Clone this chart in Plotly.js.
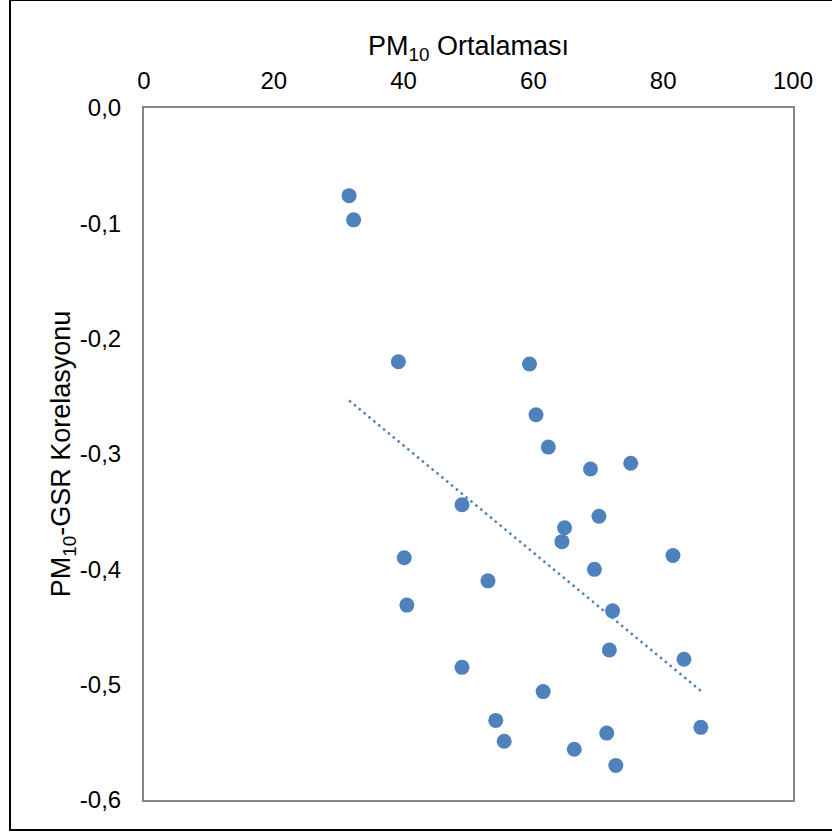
<!DOCTYPE html>
<html>
<head>
<meta charset="utf-8">
<script src="https://cdn.plot.ly/plotly-3.0.1.min.js"></script>
<style>
  html, body { margin: 0; padding: 0; background: #fff; overflow: hidden; }
  #frame { position: absolute; left: 9px; top: -1px; width: 830px; height: 832px;
           border: 2px solid #000; box-sizing: border-box; pointer-events: none; z-index: 2; }
  #chart { position: absolute; left: 0; top: 0; width: 832px; height: 836px; }
</style>
</head>
<body>
<div id="chart"></div>
<div id="frame"></div>
<script>
// PM10 mean per station vs. PM10-GSR correlation
const pm10Mean = [31.6, 32.3, 39.2, 59.4, 60.4, 62.3, 68.8, 75.0, 49.0, 70.1,
                  64.8, 64.4, 40.1, 81.5, 69.4, 53.0, 40.5, 72.2, 71.7, 83.2,
                  49.0, 61.5, 54.2, 85.8, 71.3, 55.5, 66.3, 72.7];
const pm10GsrCorr = [-0.076, -0.097, -0.220, -0.222, -0.266, -0.294, -0.313, -0.308, -0.344, -0.354,
                     -0.364, -0.376, -0.390, -0.388, -0.400, -0.410, -0.431, -0.436, -0.470, -0.478,
                     -0.485, -0.506, -0.531, -0.537, -0.542, -0.549, -0.556, -0.570];

const xTickVals = [0, 20, 40, 60, 80, 100];
const xTickText = ['0', '20', '40', '60', '80', '100'];
const yTickVals = [0, -0.1, -0.2, -0.3, -0.4, -0.5, -0.6];
const yTickText = ['0,0', '-0,1', '-0,2', '-0,3', '-0,4', '-0,5', '-0,6'];

// Least-squares linear trend over the data range
function linearFit(xs, ys) {
  const n = xs.length;
  const mx = xs.reduce((a, b) => a + b, 0) / n;
  const my = ys.reduce((a, b) => a + b, 0) / n;
  let sxy = 0, sxx = 0;
  for (let i = 0; i < n; i++) {
    sxy += (xs[i] - mx) * (ys[i] - my);
    sxx += (xs[i] - mx) * (xs[i] - mx);
  }
  const slope = sxy / sxx;
  return { slope, intercept: my - slope * mx };
}
const fit = linearFit(pm10Mean, pm10GsrCorr);
const xMin = Math.min(...pm10Mean), xMax = Math.max(...pm10Mean);
const trendX = [xMin, xMax];
const trendY = trendX.map(x => fit.intercept + fit.slope * x);

const blue = '#4F81BD';
const font = 'Liberation Sans, Arial, sans-serif';

const traces = [
  {
    x: trendX, y: trendY, type: 'scatter', mode: 'lines',
    line: { color: blue, width: 2.5, dash: '2.5px,3.8px' },
    hoverinfo: 'skip', showlegend: false
  },
  {
    x: pm10Mean, y: pm10GsrCorr, type: 'scatter', mode: 'markers',
    marker: { color: blue, size: 15, line: { width: 0 } },
    showlegend: false
  }
];

const layout = {
  width: 832, height: 836,
  margin: { l: 144, r: 39, t: 108, b: 36 },
  paper_bgcolor: '#fff', plot_bgcolor: '#fff',
  font: { family: font, size: 24, color: '#000' },
  showlegend: false,
  xaxis: {
    side: 'top', range: [0, 100], tickvals: xTickVals, ticktext: xTickText,
    showgrid: false, zeroline: false,
    showline: true, mirror: true, linecolor: '#868686', linewidth: 2,
    ticks: 'outside', ticklen: 7, tickcolor: 'rgba(0,0,0,0)',
    tickfont: { family: font, size: 24, color: '#000' },
    title: { text: 'PM<sub>10</sub> Ortalaması', font: { family: font, size: 27, color: '#000' }, standoff: 4 }
  },
  yaxis: {
    range: [-0.6, 0], tickvals: yTickVals, ticktext: yTickText,
    showgrid: false, zeroline: false,
    showline: true, mirror: true, linecolor: '#868686', linewidth: 2,
    ticks: 'outside', ticklen: 16, tickcolor: 'rgba(0,0,0,0)',
    tickfont: { family: font, size: 24, color: '#000' },
    title: { text: 'PM<sub>10</sub>-GSR Korelasyonu', font: { family: font, size: 27, color: '#000' }, standoff: 1 }
  }
};

Plotly.newPlot('chart', traces, layout, { displayModeBar: false, staticPlot: true });
</script>
</body>
</html>
